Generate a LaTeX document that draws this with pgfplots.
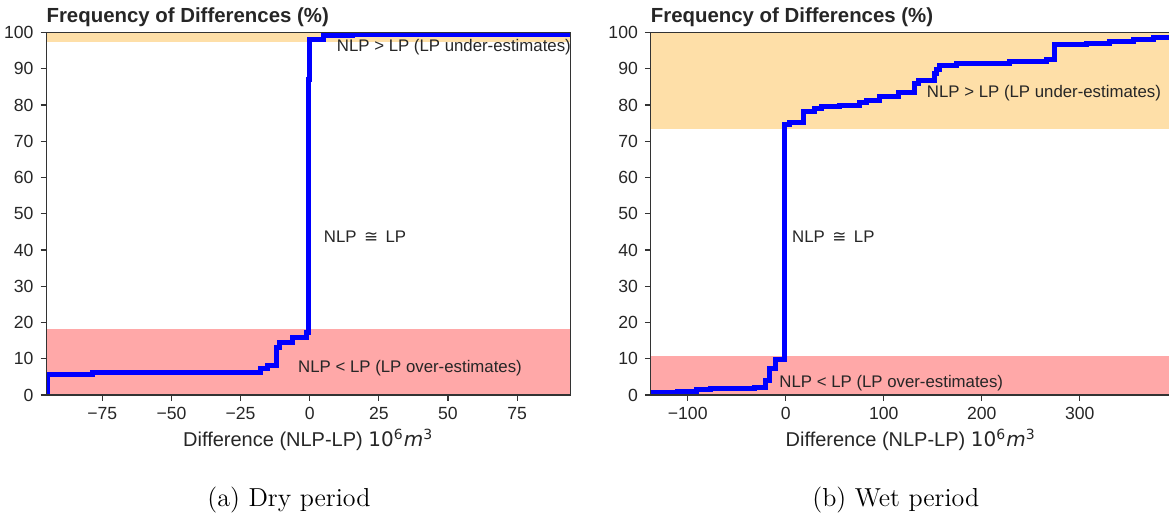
\documentclass[border=0pt]{standalone}
\usepackage{pgfplots}
\pgfplotsset{compat=1.18}
\usepackage{fontspec}
\newfontfamily\arial{Liberation Sans}
\newfontfamily\dejavu{DejaVu Sans}

\definecolor{under}{RGB}{254,223,168}
\definecolor{over}{RGB}{255,168,168}
\definecolor{spine}{RGB}{51,51,51}
\definecolor{txt}{RGB}{38,38,38}

\tikzset{
  note/.style={font=\arial\fontsize{8.4}{10}\selectfont, text=txt, anchor=base west, inner sep=0pt},
  head/.style={font=\arial\bfseries\fontsize{10.2}{12}\selectfont, text=txt, anchor=base west, inner sep=0pt},
  subcap/.style={font=\fontsize{13}{15}\selectfont, anchor=base, inner sep=0pt},
}

\pgfplotsset{
  cdfax/.style={
    scale only axis,
    height=181.2pt,
    ymin=0, ymax=100,
    ytick={0,10,...,100},
    axis line style={spine, line width=0.6pt},
    tick style={spine, line width=0.6pt},
    tick align=outside,
    major tick length=2.8pt,
    xtick pos=bottom, ytick pos=left,
    /pgf/number format/assume math mode=true,
    ticklabel style={font=\arial\fontsize{8.8}{10}\selectfont, text=txt},
    xlabel style={font=\arial\fontsize{10}{12}\selectfont, text=txt,
      at={(0.5,0)}, anchor=base, yshift=-25.8pt},
    xlabel={Difference (NLP-LP) {\dejavu 10\textsuperscript{6}\textit{m}\textsuperscript{3}}},
    axis on top,
  },
  cdf/.style={const plot, blue, line width=2.5pt, line join=miter},
}

\begin{document}
\begin{tikzpicture}

% (a) dry period
\begin{axis}[cdfax, name=dry,
    at={(23.1pt,61pt)}, anchor=south west,
    width=262pt,
    xmin=-95.3, xmax=94.2,
    xtick={-75,-50,-25,0,25,50,75},
    xticklabels={−75,−50,−25,0,25,50,75},
]
\addplot[draw=none, fill=over] coordinates {(-95.3,18.3) (94.2,18.3)} \closedcycle;
\addplot[draw=none, fill=under] coordinates {(-95.3,97.5) (94.2,97.5) (94.2,100) (-95.3,100)} -- cycle;
\addplot[cdf] coordinates {
  (-95,0) (-95,5.7) (-78.5,6.1) (-17.9,7.4) (-15.3,8.2) (-11.9,13.0)
  (-11.1,14.6) (-6.1,15.9) (-1.0,17.3) (-0.3,87) (-0.1,98.1)
  (5,99.1) (15.3,99.6) (94.2,99.6)
};
\node[note] at (axis cs:9.7,94.9) {NLP > LP (LP under-estimates)};
\node[note] at (axis cs:5,42) {NLP \,{\dejavu ≅}\, LP};
\node[note] at (axis cs:-4.3,6.2) {NLP < LP (LP over-estimates)};
\end{axis}

% (b) wet period
\begin{axis}[cdfax, name=wet,
    at={(325.25pt,61pt)}, anchor=south west,
    width=260.2pt,
    xmin=-138, xmax=393,
    xtick={-100,0,100,200,300},
    xticklabels={−100,0,100,200,300},
]
\addplot[draw=none, fill=over] coordinates {(-138,10.7) (393,10.7)} \closedcycle;
\addplot[draw=none, fill=under] coordinates {(-138,73.5) (393,73.5) (393,100) (-138,100)} -- cycle;
\addplot[cdf] coordinates {
  (-138,0.6) (-110,0.9) (-91,1.6) (-77,1.8) (-31.5,2.0) (-21,4.1)
  (-17,7.3) (-10,9.9) (-1.6,74.7) (3.5,75.2) (17.8,78.2) (29.7,79.1)
  (36.5,79.6) (55.2,80.0) (75.6,80.7) (82.4,81.2) (96,82.3) (114.7,83.5)
  (131.7,86.0) (135.1,86.9) (152.1,88.8) (154,89.9) (157.2,90.8)
  (174.3,91.5) (228.7,92.0) (266,92.6) (273.9,96.7) (307,97.1)
  (330.7,97.6) (354.5,98.2) (374.9,98.6) (393,98.6)
};
\node[note] at (axis cs:143.7,82.1) {NLP > LP (LP under-estimates)};
\node[note] at (axis cs:6.2,42) {NLP \,{\dejavu ≅}\, LP};
\node[note] at (axis cs:-6.8,2.2) {NLP < LP (LP over-estimates)};
\end{axis}

\node[head] at ([yshift=5pt]dry.north west) {Frequency of Differences (\%)};
\node[head] at ([yshift=5pt]wet.north west) {Frequency of Differences (\%)};

\node[subcap] at (144.5pt,5.15pt) {(a) Dry period};
\node[subcap] at (447.9pt,5.15pt) {(b) Wet period};

\pgfresetboundingbox
\path (0,0) rectangle (584.5pt,258.5pt);
\end{tikzpicture}
\end{document}
